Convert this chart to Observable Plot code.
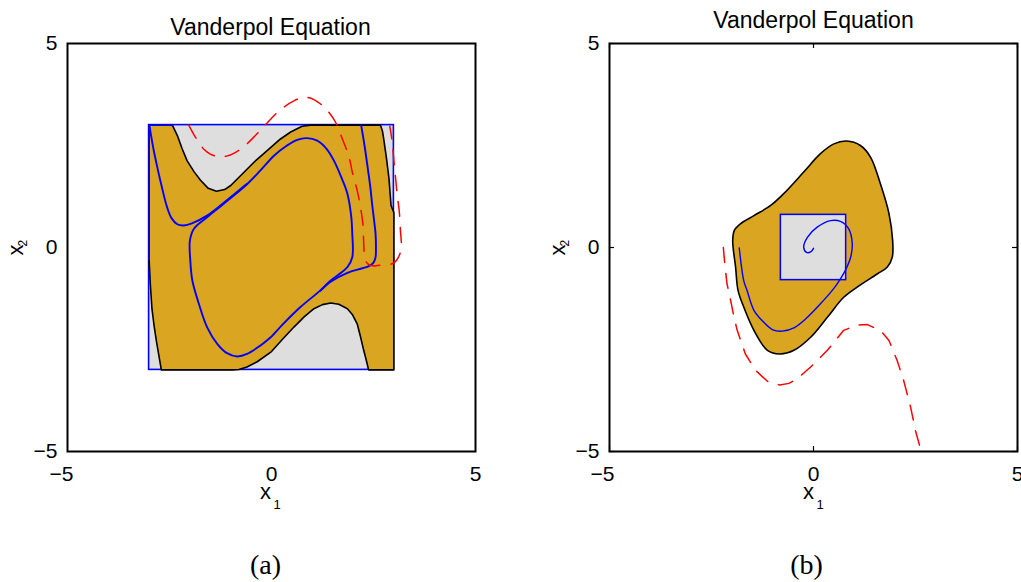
<!DOCTYPE html>
<html><head><meta charset="utf-8">
<script src="https://cdn.jsdelivr.net/npm/d3@7"></script>
<script src="https://cdn.jsdelivr.net/npm/@observablehq/plot@0.6"></script>
<style>
body{margin:0;background:#fff;}
#wrap{position:relative;width:1021px;height:582px;overflow:hidden;background:#fff;}
#wrap > svg{position:absolute;top:0;}
</style></head><body><div id="wrap"></div>
<script>
const chartTitle = "Vanderpol Equation";
const captions = ["(a)", "(b)"];
const ticks = [-5, 0, 5];

// ---------- panel (a) ----------
const boxA = [{x1: -3, x2: 3, y1: -3, y2: 3}];
const goldA = [
  [-3,3],[-2.43,3],[-2.31,2.75],[-2.19,2.42],[-2.07,2.13],[-1.9,1.86],[-1.74,1.65],[-1.55,1.45],
  [-1.35,1.38],[-1.15,1.42],[-1.0,1.52],[-0.76,1.76],[-0.43,2.09],[-0.1,2.38],[0.22,2.66],
  [0.47,2.83],[0.75,2.97],[0.95,3],
  [2.67,3],[2.72,2.85],[2.75,2.66],[2.82,2.17],[2.88,1.68],[2.93,1.03],[3,0.85],
  [3,-3],[2.38,-3],[2.32,-2.75],[2.26,-2.52],[2.18,-2.18],[2.1,-1.87],[1.98,-1.64],[1.86,-1.5],
  [1.65,-1.39],[1.45,-1.36],[1.25,-1.4],[1.04,-1.5],[0.8,-1.7],[0.55,-1.95],[0.27,-2.25],
  [0.0,-2.55],[-0.35,-2.8],[-0.6,-2.93],[-0.8,-2.99],[-0.95,-3],
  [-2.7,-3],[-2.76,-2.65],[-2.82,-2.3],[-2.88,-1.9],[-2.93,-1.5],[-2.97,-0.9],[-3,-0.3]
];
const blueEdgeA = [[-2.43,3],[-3,3],[-3,-0.3]];
const cycleA = [
  [0.87,2.68],[1.12,2.62],[1.35,2.42],[1.53,2.13],[1.72,1.7],[1.86,1.32],[1.95,0.8],[1.98,0.34],
  [1.98,-0.24],[1.86,-0.48],[1.45,-0.81],[1.2,-1.05],[0.71,-1.46],[0.27,-1.89],[-0.02,-2.2],
  [-0.27,-2.4],[-0.6,-2.61],[-0.84,-2.67],[-1.09,-2.59],[-1.33,-2.36],[-1.58,-1.95],[-1.78,-1.38],
  [-1.94,-0.81],[-1.99,-0.32],[-2.0,0.17],[-1.9,0.46],[-1.58,0.74],[-1.2,1.05],[-0.6,1.55],
  [-0.27,1.89],[0.06,2.25],[0.38,2.5],[0.63,2.64]
];
const traj1A = [
  [-2.99,2.98],[-2.9,2.45],[-2.8,1.97],[-2.68,1.45],[-2.56,0.99],[-2.45,0.72],[-2.31,0.57],
  [-2.15,0.54],[-1.95,0.59],[-1.58,0.78],[-1.2,1.07],[-0.6,1.56]
];
const traj2A = [
  [2.2,2.98],[2.28,2.5],[2.35,2.01],[2.42,1.5],[2.47,1.03],[2.51,0.7],[2.55,0.34],[2.56,0.0],
  [2.55,-0.24],[2.5,-0.37],[2.4,-0.45],[2.26,-0.5],[1.86,-0.62],[1.45,-0.84],[1.2,-1.06]
];
const redA = [
  [-2.03,3.0],[-1.92,2.8],[-1.81,2.62],[-1.65,2.4],[-1.5,2.29],[-1.3,2.23],[-1.1,2.24],[-0.9,2.32],
  [-0.68,2.47],[-0.39,2.75],[-0.1,3.06],[0.2,3.36],[0.56,3.6],[0.83,3.68],[1.05,3.62],[1.32,3.41],
  [1.57,3.07],[1.73,2.68],[1.9,2.22],[1.98,1.85],[2.1,1.4],[2.18,0.99],[2.24,0.58],[2.26,0.13],
  [2.29,-0.28],[2.36,-0.4],[2.48,-0.45],[2.6,-0.44],[3.0,-0.38],[3.12,-0.22],[3.18,0.0],
  [3.16,0.42],[3.13,0.9],[3.08,1.3],[3.04,1.72],[3.0,2.13],[2.96,2.58],[2.9,2.97]
];

// ---------- panel (b) ----------
const boxB = [{x1: -0.8, x2: 0.8, y1: -0.8, y2: 0.8}];
const goldB = [
  [0.81,2.61],[1.15,2.5],[1.40,2.21],[1.64,1.56],[1.85,0.83],[1.94,0.17],[1.93,-0.24],[1.81,-0.48],
  [1.56,-0.65],[1.07,-0.97],[0.74,-1.22],[0.34,-1.71],[-0.07,-2.2],[-0.48,-2.52],[-0.83,-2.61],
  [-1.13,-2.52],[-1.46,-2.03],[-1.71,-1.46],[-1.85,-1.05],[-1.91,-0.48],[-1.98,0.17],[-1.94,0.42],
  [-1.79,0.58],[-1.46,0.78],[-1.05,1.03],[-0.73,1.32],[-0.24,1.85],[0.17,2.30],[0.50,2.54]
];
const spiralB = [
  [-1.82,-0.01],[-1.71,-0.81],[-1.63,-1.05],[-1.46,-1.54],[-1.26,-1.79],[-1.01,-2.01],[-0.77,-2.05],
  [-0.48,-1.97],[-0.15,-1.71],[0.17,-1.38],[0.46,-1.05],[0.58,-0.89],[0.78,-0.56],[0.91,-0.24],
  [0.95,0.09],[0.86,0.46],[0.66,0.64],[0.42,0.66],[0.09,0.50],[-0.15,0.25],[-0.24,0.01],
  [-0.17,-0.12],[-0.06,-0.1],[0.0,-0.02]
];
const redB = [
  [-2.21,0.0],[-2.17,-0.45],[-2.12,-0.89],[-2.03,-1.30],[-1.95,-1.7],[-1.87,-2.03],[-1.67,-2.61],
  [-1.42,-3.01],[-1.13,-3.28],[-0.83,-3.37],[-0.6,-3.33],[-0.40,-3.22],[-0.07,-2.93],[0.34,-2.52],
  [0.74,-2.03],[1.07,-1.90],[1.32,-1.89],[1.64,-2.03],[1.85,-2.28],[2.05,-2.77],[2.21,-3.26],
  [2.38,-3.91],[2.50,-4.49],[2.61,-4.89]
];

const BLUE = "#0000ff", RED = "#ff0000", GOLD = "#daa520", GREY = "#dedede";
const sans = "Liberation Sans, Arial, Helvetica, sans-serif";
const serif = "Liberation Serif, Times New Roman, serif";

function decorations(opts) {
  return [
    Plot.frame({stroke: "black", strokeWidth: 2}),
    Plot.axisY({ticks, tickSize: 0, tickPadding: 10, fontSize: 21, label: null}),
    Plot.axisX({ticks: ticks.filter(t => t >= 0), tickSize: 0, tickPadding: 15, fontSize: 21, label: null}),
    Plot.axisX({ticks: ticks.filter(t => t < 0), tickSize: 0, tickPadding: 15, fontSize: 21, label: null, dx: opts.minusDx}),
    Plot.text([chartTitle], {frameAnchor: "top", dx: opts.titleDx, dy: opts.titleDy, lineAnchor: "bottom", fontSize: 23}),
    Plot.text(["x"], {frameAnchor: "bottom", dx: opts.xlabDx, dy: 47, lineAnchor: "bottom", fontSize: 22}),
    Plot.text(["1"], {frameAnchor: "bottom", dx: opts.xlabDx + 8, dy: 57, lineAnchor: "bottom", textAnchor: "start", fontSize: 13}),
    Plot.text(["x"], {frameAnchor: "left", dx: -45, dy: 8, rotate: -90, lineAnchor: "bottom", fontSize: 22}),
    Plot.text(["2"], {frameAnchor: "left", dx: -41, dy: -1, rotate: -90, lineAnchor: "bottom", textAnchor: "start", fontSize: 12}),
    Plot.text([opts.caption], {frameAnchor: "bottom", dx: opts.capDx, dy: 122, lineAnchor: "bottom", fontSize: 28, fontFamily: serif})
  ];
}

const common = {
  height: 582, marginTop: 43, marginBottom: 131,
  x: {domain: [-5, 5]}, y: {domain: [-5, 5]},
  style: {fontFamily: sans, background: "white", overflow: "visible", color: "black"}
};

const plotA = Plot.plot({
  ...common, width: 510, marginLeft: 67, marginRight: 35,
  marks: [
    Plot.rect(boxA, {x1: "x1", x2: "x2", y1: "y1", y2: "y2", fill: GREY, stroke: BLUE, strokeWidth: 1.6}),
    Plot.line(goldA, {fill: GOLD, stroke: "black", strokeWidth: 1.6, curve: "linear-closed"}),
    Plot.line(blueEdgeA, {stroke: BLUE, strokeWidth: 1.8}),
    Plot.line(cycleA, {stroke: BLUE, strokeWidth: 1.9, curve: "catmull-rom-closed"}),
    Plot.line(traj1A, {stroke: BLUE, strokeWidth: 1.9, curve: "catmull-rom"}),
    Plot.line(traj2A, {stroke: BLUE, strokeWidth: 1.9, curve: "catmull-rom"}),
    Plot.line(redA, {stroke: RED, strokeWidth: 1.5, strokeDasharray: "15,11", curve: "catmull-rom"}),
    ...decorations({minusDx: -6, titleDx: -1, titleDy: -9, xlabDx: -6, caption: captions[0], capDx: -6})
  ]
});

const plotB = Plot.plot({
  ...common, width: 511, marginLeft: 99, marginRight: 4,
  marks: [
    Plot.line(goldB, {fill: GOLD, stroke: "black", strokeWidth: 1.6, curve: "catmull-rom-closed"}),
    Plot.rect(boxB, {x1: "x1", x2: "x2", y1: "y1", y2: "y2", fill: GREY, stroke: BLUE, strokeWidth: 1.5}),
    Plot.line(spiralB, {stroke: BLUE, strokeWidth: 1.4, curve: "catmull-rom"}),
    Plot.line(redB, {stroke: RED, strokeWidth: 1.5, strokeDasharray: "15,11"}),
    Plot.ruleX(ticks, {insetBottom: 403, strokeWidth: 1.2}),
    Plot.ruleX(ticks, {insetTop: 403, strokeWidth: 1.2}),
    Plot.ruleY(ticks, {insetRight: 403, strokeWidth: 1.2}),
    Plot.ruleY(ticks, {insetLeft: 403, strokeWidth: 1.2}),
    ...decorations({minusDx: -7, titleDx: 0, titleDy: -16, xlabDx: -5, caption: captions[1], capDx: -7})
  ]
});

const wrap = document.getElementById("wrap");
plotA.style.left = "0px";
plotB.style.left = "510px";
wrap.appendChild(plotA);
wrap.appendChild(plotB);
</script></body></html>
